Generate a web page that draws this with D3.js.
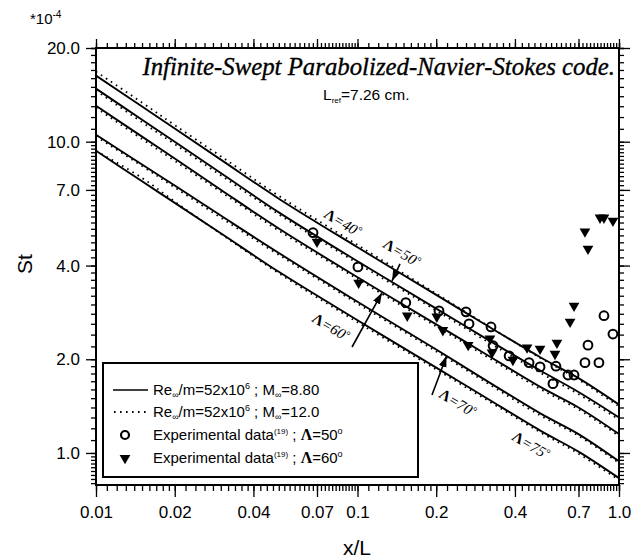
<!DOCTYPE html>
<html>
<head>
<meta charset="utf-8">
<script src="https://d3js.org/d3.v7.min.js"></script>
<style>
  body { margin: 0; background: #fff; }
  text { font-family: "Liberation Sans", Arial, sans-serif; fill: #000; }
  .serif { font-family: "Liberation Serif", "Times New Roman", serif; }
</style>
</head>
<body>
<div id="chart"></div>
<script>
var xOverL = [0.01, 0.015, 0.02, 0.03, 0.05, 0.1, 0.2, 0.3, 0.5, 0.7, 1.0];

// St *1e4, Re/m=52e6, M=8.80 (solid)
var st40 = [16.30, 12.97, 11.02, 8.76, 6.56, 4.58, 3.22, 2.62, 2.03, 1.74, 1.43];
var st50 = [14.81, 11.76, 9.99, 7.93, 5.93, 4.13, 2.91, 2.37, 1.84, 1.57, 1.30];
var st60 = [13.05, 10.38, 8.83, 7.01, 5.26, 3.67, 2.59, 2.11, 1.63, 1.40, 1.15];
var st70 = [10.53, 8.45, 7.23, 5.79, 4.39, 3.06, 2.15, 1.74, 1.34, 1.15, 0.94];
var st75 = [9.35, 7.46, 6.36, 5.08, 3.82, 2.67, 1.88, 1.53, 1.18, 1.01, 0.83];

// St *1e4, Re/m=52e6, M=12.0 (dotted)
var st40m12 = [16.80, 13.35, 11.30, 8.98, 6.70, 4.66, 3.25, 2.63, 2.02, 1.72, 1.41];
var st50m12 = [14.60, 11.55, 9.82, 7.80, 5.84, 4.07, 2.87, 2.33, 1.81, 1.545, 1.28];
var st60m12 = [12.85, 10.20, 8.68, 6.90, 5.18, 3.62, 2.55, 2.08, 1.605, 1.38, 1.135];
var st70m12 = [10.40, 8.35, 7.13, 5.70, 4.33, 3.02, 2.12, 1.715, 1.32, 1.135, 0.928];
var st75m12 = [9.35, 7.65, 6.42, 5.06, 3.78, 2.63, 1.855, 1.51, 1.165, 0.995, 0.818];

// experimental data, sweep 50 deg (circles)
var exp50x = [0.0676, 0.1004, 0.153, 0.205, 0.260, 0.267, 0.324, 0.330, 0.380, 0.453, 0.499, 0.559, 0.574, 0.638, 0.673, 0.741, 0.761, 0.838, 0.876, 0.948];
var exp50y = [5.10, 3.96, 3.04, 2.86, 2.84, 2.60, 2.54, 2.21, 2.05, 1.95, 1.89, 1.67, 1.90, 1.78, 1.78, 1.95, 2.22, 1.95, 2.76, 2.41];

// experimental data, sweep 60 deg (triangles)
var exp60x = [0.070, 0.101, 0.155, 0.201, 0.212, 0.265, 0.321, 0.327, 0.393, 0.445, 0.499, 0.569, 0.579, 0.650, 0.673, 0.741, 0.761, 0.846, 0.876, 0.948];
var exp60y = [4.77, 3.52, 2.76, 2.74, 2.48, 2.22, 2.33, 2.10, 1.99, 2.18, 2.16, 2.08, 2.26, 2.64, 2.97, 5.14, 4.53, 5.70, 5.70, 5.57];

var yTicks = [1, 2, 4, 7, 10, 20];
var xTicks = [0.01, 0.02, 0.04, 0.07, 0.1, 0.2, 0.4, 0.7, 1.0];
var xTickLabels = ["0.01", "0.02", "0.04", "0.07", "0.1", "0.2", "0.4", "0.7", "1.0"];

// sweep-angle labels: [angle, x/L, St], and arrows [x0, y0, x1, y1]
var angleLabels = [[40, 0.088, 5.50], [50, 0.148, 4.40], [60, 0.0792, 2.54], [70, 0.242, 1.45], [75, 0.461, 1.06]];
var angleArrows = [[0.1454, 4.05, 0.1355, 3.57], [0.0953, 2.19, 0.124, 3.27], [0.1927, 1.536, 0.219, 2.05]];

var W = 639, H = 560;
var pL = 96, pR = 619, pT = 48, pB = 485;

var svg = d3.select("#chart").append("svg")
    .attr("width", W).attr("height", H);

var defs = svg.append("defs");
defs.append("marker").attr("id", "arr")
    .attr("viewBox", "0 0 10 10").attr("refX", 10).attr("refY", 5)
    .attr("markerWidth", 7).attr("markerHeight", 7).attr("orient", "auto")
    .append("path").attr("d", "M0,1.5 L10,5 L0,8.5 Z").attr("fill", "#000");

var x = d3.scaleLog().domain([0.01, 1]).range([pL, pR]);
var y = d3.scaleLog().domain([0.789, 20]).range([pB, pT]);

function minorTicks(lo, hi) {
    var out = [];
    for (var e = Math.floor(Math.log10(lo)); e <= Math.ceil(Math.log10(hi)); e++) {
        var b = Math.pow(10, e);
        var m = 1;
        while (m < 9.999) {
            var v = m * b;
            if (v >= lo * 0.9999 && v <= hi * 1.0001) out.push(v);
            m += m < 1.999 ? 0.1 : (m < 3.999 ? 0.2 : 0.25);
            m = Math.round(m * 100) / 100;
        }
    }
    return out;
}
var minorX = minorTicks(0.01, 1).concat([1]);
var minorY = minorTicks(0.79, 20).concat([20]);

function styleAxis(g) {
    g.select(".domain").remove();
    g.selectAll("line").attr("stroke", "#000").attr("stroke-width", 1.3);
}

// minor ticks on all four sides
svg.append("g").attr("transform", "translate(" + pL + ",0)")
    .call(d3.axisLeft(y).tickValues(minorY).tickSize(5).tickFormat("")).call(styleAxis);
svg.append("g").attr("transform", "translate(" + pR + ",0)")
    .call(d3.axisRight(y).tickValues(minorY).tickSize(5).tickFormat("")).call(styleAxis);
svg.append("g").attr("transform", "translate(0," + pB + ")")
    .call(d3.axisBottom(x).tickValues(minorX).tickSize(6).tickFormat("")).call(styleAxis);
svg.append("g").attr("transform", "translate(0," + pT + ")")
    .call(d3.axisTop(x).tickValues(minorX).tickSize(5).tickFormat("")).call(styleAxis);

// major ticks
var yl = svg.append("g").attr("transform", "translate(" + pL + ",0)")
    .call(d3.axisLeft(y).tickValues(yTicks).tickSize(10).tickPadding(6).tickFormat(d3.format(".1f")))
    .call(styleAxis);
yl.attr("font-family", null).attr("font-size", null);
yl.selectAll("text").style("font-size", "17px");
svg.append("g").attr("transform", "translate(" + pR + ",0)")
    .call(d3.axisRight(y).tickValues(yTicks).tickSize(11).tickFormat("")).call(styleAxis);
var xl = svg.append("g").attr("transform", "translate(0," + pB + ")")
    .call(d3.axisBottom(x).tickValues(xTicks).tickSize(12).tickPadding(9)
        .tickFormat(function (d, i) { return xTickLabels[i]; }))
    .call(styleAxis);
xl.attr("font-family", null).attr("font-size", null);
xl.selectAll("text").style("font-size", "17px");
svg.append("g").attr("transform", "translate(0," + pT + ")")
    .call(d3.axisTop(x).tickValues(xTicks).tickSize(9).tickFormat("")).call(styleAxis);

// frame
svg.append("rect").attr("x", pL).attr("y", pT)
    .attr("width", pR - pL).attr("height", pB - pT)
    .attr("fill", "none").attr("stroke", "#000").attr("stroke-width", 2);

// curves
var line = d3.line()
    .x(function (d) { return x(d[0]); })
    .y(function (d) { return y(d[1]); })
    .curve(d3.curveCatmullRom);

function pairs(vals) { return xOverL.map(function (v, i) { return [v, vals[i]]; }); }

var plot = svg.append("g");
[st40, st50, st60, st70, st75].forEach(function (s) {
    plot.append("path").attr("d", line(pairs(s)))
        .attr("fill", "none").attr("stroke", "#000").attr("stroke-width", 1.9);
});
[st40m12, st50m12, st60m12, st70m12, st75m12].forEach(function (s) {
    plot.append("path").attr("d", line(pairs(s)))
        .attr("fill", "none").attr("stroke", "#000").attr("stroke-width", 1.8)
        .attr("stroke-dasharray", "1.6,4.4");
});

// experimental points
plot.selectAll(".c50").data(exp50x).enter().append("circle")
    .attr("cx", function (d) { return x(d); })
    .attr("cy", function (d, i) { return y(exp50y[i]); })
    .attr("r", 4.4).attr("fill", "none").attr("stroke", "#000").attr("stroke-width", 2);

var tri = d3.symbol().type(d3.symbolTriangle).size(50);
plot.selectAll(".t60").data(exp60x).enter().append("path")
    .attr("d", tri)
    .attr("transform", function (d, i) { return "translate(" + x(d) + "," + y(exp60y[i]) + ") rotate(180)"; })
    .attr("fill", "#000");

// sweep angle annotations
angleLabels.forEach(function (a) {
    var t = svg.append("text").attr("class", "serif")
        .attr("transform", "translate(" + x(a[1]) + "," + y(a[2]) + ") rotate(31)")
        .attr("text-anchor", "middle").attr("dy", "0.35em")
        .style("font-size", "15px").style("font-style", "italic");
    t.append("tspan").text("\u039B").style("font-weight", "bold").style("font-style", "normal");
    t.append("tspan").text("=" + a[0]);
    t.append("tspan").text("\u00B0").attr("dy", "-0.3em").style("font-size", "11px");
});
angleArrows.forEach(function (a) {
    svg.append("line")
        .attr("x1", x(a[0])).attr("y1", y(a[1]))
        .attr("x2", x(a[2])).attr("y2", y(a[3]))
        .attr("stroke", "#000").attr("stroke-width", 1.6)
        .attr("marker-end", "url(#arr)");
});

// title texts
svg.append("text").attr("class", "serif")
    .attr("x", 615).attr("y", 75).attr("text-anchor", "end")
    .style("font-size", "24.8px").style("font-style", "italic")
    .attr("stroke", "#000").attr("stroke-width", 0.35)
    .text("Infinite-Swept Parabolized-Navier-Stokes code.");
var lr = svg.append("text").attr("x", 323).attr("y", 100).style("font-size", "15.5px");
lr.append("tspan").text("L");
lr.append("tspan").text("ref").attr("dy", 3).style("font-size", "8px");
lr.append("tspan").text("=7.26 cm.").attr("dy", -3);

var sc = svg.append("text").attr("x", 30).attr("y", 24).style("font-size", "15px");
sc.append("tspan").text("*10");
sc.append("tspan").text("-4").attr("dy", -6).style("font-size", "10px");

svg.append("text").attr("transform", "translate(32,264) rotate(-90)")
    .attr("text-anchor", "middle").style("font-size", "21px").text("St");
svg.append("text").attr("x", 357).attr("y", 555)
    .attr("text-anchor", "middle").style("font-size", "21px").text("x/L");

// legend
var lg = svg.append("g");
lg.append("rect").attr("x", 103).attr("y", 363).attr("width", 315).attr("height", 114)
    .attr("fill", "#fff").attr("stroke", "#000").attr("stroke-width", 2);
lg.append("line").attr("x1", 113).attr("x2", 148).attr("y1", 390).attr("y2", 390)
    .attr("stroke", "#000").attr("stroke-width", 1.6);
lg.append("line").attr("x1", 114).attr("x2", 148).attr("y1", 412).attr("y2", 412)
    .attr("stroke", "#000").attr("stroke-width", 1.8).attr("stroke-dasharray", "1.6,4.4");
lg.append("circle").attr("cx", 125).attr("cy", 435).attr("r", 4)
    .attr("fill", "none").attr("stroke", "#000").attr("stroke-width", 2.2);
lg.append("path").attr("d", tri).attr("transform", "translate(125,458) rotate(180)").attr("fill", "#000");

function reRow(yy, mach) {
    var t = lg.append("text").attr("x", 153).attr("y", yy + 5).style("font-size", "15px");
    t.append("tspan").text("Re");
    t.append("tspan").text("\u221E").attr("dy", 3).style("font-size", "9px");
    t.append("tspan").text("/m=52x10").attr("dy", -3);
    t.append("tspan").text("6").attr("dy", -6).style("font-size", "9px");
    t.append("tspan").text(" ; M").attr("dy", 6);
    t.append("tspan").text("\u221E").attr("dy", 3).style("font-size", "9px");
    t.append("tspan").text("=" + mach).attr("dy", -3);
}
function expRow(yy, ang) {
    var t = lg.append("text").attr("x", 153).attr("y", yy + 5).style("font-size", "15px");
    t.append("tspan").text("Experimental data");
    t.append("tspan").text("(19)").attr("dy", -6).style("font-size", "8px");
    t.append("tspan").text(" ; ").attr("dy", 6);
    t.append("tspan").text("\u039B").attr("class", "serif").style("font-weight", "bold").style("font-size", "16px");
    t.append("tspan").text("=" + ang);
    t.append("tspan").text("o").attr("dy", -6).style("font-size", "9px");
}
reRow(390, "8.80");
reRow(412, "12.0");
expRow(435, "50");
expRow(458, "60");
</script>
</body>
</html>
